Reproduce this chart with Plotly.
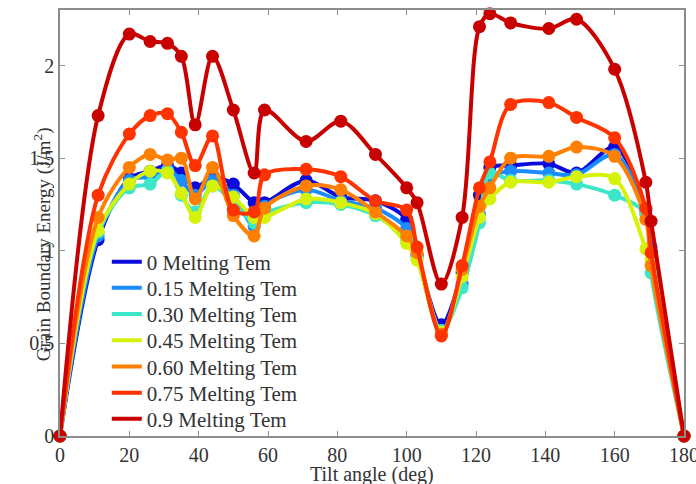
import plotly.graph_objects as go

# Tilt angles (deg) at which grain boundary energy was sampled
tilt_angle = [0, 11, 20, 26, 31, 35, 39, 44, 50, 56, 59, 71, 81, 91, 100, 103,
              110, 116, 121, 124, 130, 141, 149, 160, 169, 170.5, 180]

# Grain boundary energy (J/m^2) for each fraction of the melting temperature
e_0_00 = [0, 1.06, 1.39, 1.43, 1.46, 1.42, 1.34, 1.40, 1.36, 1.26, 1.26, 1.38, 1.29, 1.27,
          1.17, 0.98, 0.60, 0.88, 1.30, 1.45, 1.46, 1.47, 1.42, 1.56, 1.22, 1.00, 0]
e_0_15 = [0, 1.08, 1.38, 1.40, 1.44, 1.38, 1.30, 1.38, 1.30, 1.13, 1.24, 1.33, 1.27, 1.23,
          1.12, 0.97, 0.57, 0.82, 1.20, 1.40, 1.43, 1.42, 1.41, 1.52, 1.20, 1.02, 0]
e_0_30 = [0, 1.10, 1.34, 1.36, 1.43, 1.30, 1.21, 1.35, 1.26, 1.15, 1.20, 1.26, 1.25, 1.19,
          1.06, 0.96, 0.57, 0.80, 1.15, 1.42, 1.38, 1.38, 1.36, 1.30, 1.20, 0.88, 0]
e_0_45 = [0, 1.11, 1.36, 1.43, 1.42, 1.31, 1.18, 1.35, 1.29, 1.18, 1.18, 1.28, 1.26, 1.20,
          1.04, 0.95, 0.56, 0.86, 1.18, 1.28, 1.37, 1.37, 1.40, 1.39, 1.01, 0.95, 0]
e_0_60 = [0, 1.18, 1.45, 1.52, 1.49, 1.50, 1.28, 1.45, 1.19, 1.08, 1.23, 1.35, 1.33, 1.21,
          1.08, 0.99, 0.55, 0.90, 1.24, 1.34, 1.50, 1.51, 1.56, 1.51, 1.17, 0.92, 0]
e_0_75 = [0, 1.30, 1.63, 1.73, 1.74, 1.64, 1.46, 1.62, 1.22, 1.21, 1.41, 1.44, 1.40, 1.27,
          1.22, 1.02, 0.54, 0.92, 1.34, 1.48, 1.79, 1.80, 1.72, 1.61, 1.23, 0.99, 0]
e_0_90 = [0, 1.73, 2.17, 2.13, 2.12, 2.05, 1.68, 2.05, 1.76, 1.42, 1.76, 1.59, 1.70, 1.52,
          1.34, 1.26, 0.82, 1.18, 2.21, 2.28, 2.23, 2.20, 2.25, 1.98, 1.37, 1.16, 0]

series_names = ["0 Melting Tem", "0.15 Melting Tem", "0.30 Melting Tem",
                "0.45 Melting Tem", "0.60 Melting Tem", "0.75 Melting Tem",
                "0.9 Melting Tem"]
series_values = [e_0_00, e_0_15, e_0_30, e_0_45, e_0_60, e_0_75, e_0_90]
series_colors = ["#0a0adc", "#1a8cff", "#3ce6c8", "#d7f20a", "#ff8000", "#ff3300", "#c80000"]

FONT = "'Liberation Serif', 'Times New Roman', Times, serif"
TEXT_COLOR = "#333333"

# Pixel geometry of the plotting area, used to place the stacked legend rows
FIG_W, FIG_H = 696, 484
MARGIN = dict(l=60, r=12, t=10, b=48)
PLOT_H = FIG_H - MARGIN["t"] - MARGIN["b"]
LEGEND_FIRST_ROW = 262   # px from top of the figure
LEGEND_ROW_STEP = 26.2   # px between rows
XTITLE_ROW = 474         # px from top of the figure

fig = go.Figure()
legend_layouts = {}
for i, (name, vals, color) in enumerate(zip(series_names, series_values, series_colors)):
    legend_id = "legend" if i == 0 else f"legend{i + 1}"
    # smooth interpolating curve (legend entry shows the line only)
    fig.add_trace(go.Scatter(
        x=tilt_angle, y=vals, mode="lines", name=name, legend=legend_id,
        line=dict(color=color, width=4, shape="spline", smoothing=0.9),
        cliponaxis=False,
    ))
    # sampled data points
    fig.add_trace(go.Scatter(
        x=tilt_angle, y=vals, mode="markers", name=name, showlegend=False,
        marker=dict(color=color, size=13, line=dict(width=0)),
        cliponaxis=False,
    ))
    row_px = LEGEND_FIRST_ROW + LEGEND_ROW_STEP * i
    legend_layouts[legend_id] = dict(
        x=0.075, y=(FIG_H - MARGIN["b"] - row_px) / PLOT_H,
        xanchor="left", yanchor="middle",
        bgcolor="rgba(0,0,0,0)", borderwidth=0,
        font=dict(family=FONT, size=21, color=TEXT_COLOR),
        itemwidth=30,
    )

axis_common = dict(
    showline=True, linecolor="#8c8c8c", linewidth=1.5, mirror="ticks",
    ticks="inside", ticklen=5, tickcolor="#8c8c8c", tickwidth=1,
    showgrid=False, zeroline=False, ticklabeloverflow="allow", automargin=False,
    tickfont=dict(family=FONT, size=20, color=TEXT_COLOR),
)

fig.update_xaxes(range=[0, 180], tickvals=[0, 20, 40, 60, 80, 100, 120, 140, 160, 180],
                 **axis_common)
fig.update_yaxes(range=[0, 2.3], tickvals=[0, 0.5, 1, 1.5, 2],
                 ticktext=["0", "0.5", "1", "1.5", "2"], **axis_common)

# Axis titles
fig.add_annotation(
    text="Tilt angle (deg)",
    xref="paper", yref="paper", x=0.5,
    y=-(XTITLE_ROW - (FIG_H - MARGIN["b"])) / PLOT_H,
    xanchor="center", yanchor="middle",
    showarrow=False, font=dict(family=FONT, size=20, color=TEXT_COLOR),
)
fig.add_annotation(
    text="Grain Boundary Energy (J/m<sup>2</sup>)", textangle=-90,
    xref="paper", yref="paper", x=-0.029, y=0.45, xanchor="center", yanchor="middle",
    showarrow=False, font=dict(family=FONT, size=19, color=TEXT_COLOR),
)

fig.update_layout(
    width=FIG_W, height=FIG_H,
    margin=MARGIN,
    paper_bgcolor="white", plot_bgcolor="white",
    showlegend=True,
    font=dict(family=FONT),
    **legend_layouts,
)

fig.write_html("out.html")
